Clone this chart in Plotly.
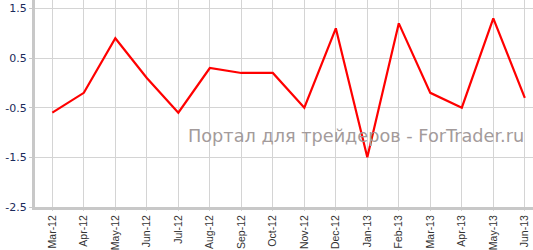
import plotly.graph_objects as go

categories = ["Mar-12", "Apr-12", "May-12", "Jun-12", "Jul-12", "Aug-12", "Sep-12", "Oct-12",
              "Nov-12", "Dec-12", "Jan-13", "Feb-13", "Mar-13", "Apr-13", "May-13", "Jun-13"]
values = [-0.6, -0.2, 0.9, 0.1, -0.6, 0.3, 0.2, 0.2, -0.5, 1.1, -1.5, 1.2, -0.2, -0.5, 1.3, -0.3]
y_ticks = [1.5, 0.5, -0.5, -1.5, -2.5]

fig = go.Figure()
fig.add_trace(go.Scatter(x=list(range(len(categories))), y=values, mode="lines",
                         line=dict(color="#ff0000", width=2.2)))

fig.update_layout(
    width=533, height=250,
    margin=dict(l=35, r=0, t=0, b=43),
    paper_bgcolor="white", plot_bgcolor="white",
    showlegend=False,
    annotations=[dict(text="Портал для трейдеров - ForTrader.ru", x=0.986, xref="paper",
                      xanchor="right", y=-1.06, yref="y", yanchor="middle", showarrow=False,
                      font=dict(family="DejaVu Sans", size=17.7, color="#a39b9b"))],
)
fig.update_xaxes(
    range=[-0.55, 15.26], automargin=False,
    tickmode="array", tickvals=list(range(len(categories))), ticktext=categories,
    tickangle=-90, tickfont=dict(family="Liberation Sans", size=10.5, color="#333333"),
    showgrid=True, gridcolor="#d4d4d4", gridwidth=1,
    showline=True, linecolor="#c8c8c8", linewidth=3,
    ticks="outside", ticklen=1, tickcolor="#d4d4d4", zeroline=False,
)
fig.update_yaxes(
    range=[-2.5, 1.67], automargin=False,
    tickmode="array", tickvals=y_ticks, ticktext=[str(v) for v in y_ticks],
    tickfont=dict(family="DejaVu Sans", size=11, color="#1a2a5a"),
    showgrid=True, gridcolor="#d4d4d4", gridwidth=1,
    showline=True, linecolor="#c8c8c8", linewidth=3,
    ticks="outside", ticklen=3, tickcolor="#c8c8c8", zeroline=False,
)
fig.write_html("out.html")
